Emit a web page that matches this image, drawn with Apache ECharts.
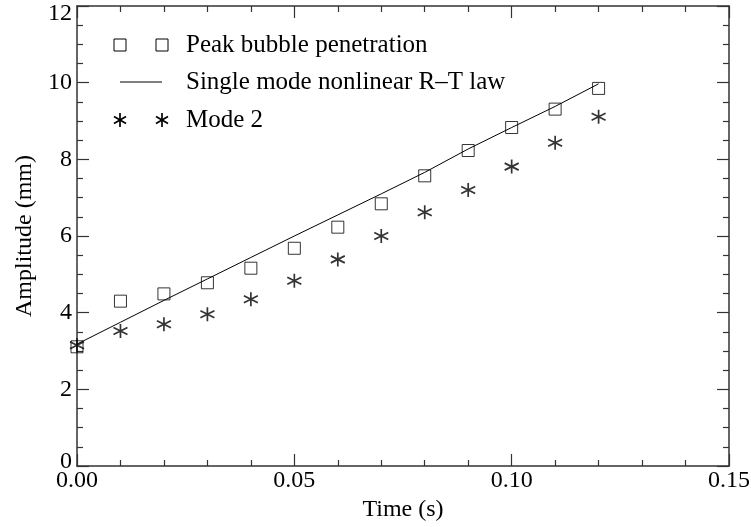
<!DOCTYPE html>
<html>
<head>
<meta charset="utf-8">
<script src="https://cdn.jsdelivr.net/npm/echarts@6/dist/echarts.min.js"></script>
<style>
  html, body { margin: 0; padding: 0; background: #fff; }
  #chart { width: 751px; height: 527px; }
</style>
</head>
<body>
<div id="chart"></div>
<script>
// Sample times (s)
const times = [0.00, 0.01, 0.02, 0.03, 0.04, 0.05, 0.06, 0.07, 0.08, 0.09, 0.10, 0.11, 0.12];
// Peak bubble penetration (mm)
const peakBubble = [3.11, 4.30, 4.49, 4.78, 5.16, 5.68, 6.23, 6.84, 7.57, 8.23, 8.83, 9.31, 9.85];
// Mode 2 amplitude (mm)
const mode2 = [3.15, 3.52, 3.70, 3.96, 4.35, 4.83, 5.39, 6.00, 6.62, 7.20, 7.81, 8.43, 9.11];
// Single mode nonlinear R-T law (mm)
const rtLaw = [3.18, 3.75, 4.32, 4.88, 5.44, 6.00, 6.55, 7.10, 7.66, 8.27, 8.83, 9.38, 9.97];

const xTicks = [0.00, 0.05, 0.10, 0.15];
const yTicks = [0, 2, 4, 6, 8, 10, 12];

const legendLabels = ['Peak bubble penetration', 'Single mode nonlinear R\u2013T law', 'Mode 2'];

const FONT = '"Liberation Serif", "DejaVu Serif", serif';
const STAR = 'path://M6,0L6,12M0.8,3L11.2,9M0.8,9L11.2,3';

const pairs = (ys) => times.map((t, i) => [t, ys[i]]);

const axisLine = { show: true, onZero: false, lineStyle: { color: '#333', width: 1.5 } };
const majorTick = { show: true, inside: true, length: 12, lineStyle: { color: '#333', width: 1.2 } };
const minorTick = (n) => ({ show: true, splitNumber: n, length: 6, lineStyle: { color: '#333', width: 1.2 } });

const chart = echarts.init(document.getElementById('chart'), null, { renderer: 'canvas' });

// Legend drawn as graphic rows: two symbols followed by the label
const rowY = [45, 82, 120];
const symX = [120, 162];
const textX = 186;
const legendGraphics = [];
symX.forEach(x => {
  legendGraphics.push({
    type: 'rect', shape: { x: x - 6, y: rowY[0] - 6, width: 12, height: 12 },
    style: { fill: 'none', stroke: '#000', lineWidth: 1 }
  });
  legendGraphics.push({
    type: 'group', x: x, y: rowY[2],
    children: [
      { type: 'line', shape: { x1: 0, y1: -7, x2: 0, y2: 7 }, style: { stroke: '#000', lineWidth: 1.7 } },
      { type: 'line', shape: { x1: -6, y1: -3.5, x2: 6, y2: 3.5 }, style: { stroke: '#000', lineWidth: 1.7 } },
      { type: 'line', shape: { x1: -6, y1: 3.5, x2: 6, y2: -3.5 }, style: { stroke: '#000', lineWidth: 1.7 } }
    ]
  });
});
legendGraphics.push({
  type: 'line', shape: { x1: symX[0], y1: rowY[1], x2: symX[1], y2: rowY[1] },
  style: { stroke: '#000', lineWidth: 1 }
});
legendLabels.forEach((label, i) => {
  legendGraphics.push({
    type: 'text', x: textX, y: rowY[i],
    style: { text: label, font: '25px ' + FONT, fill: '#000', verticalAlign: 'middle', align: 'left' }
  });
});

// Keep the end labels of the value axis inside the canvas
const yLabel = v => (v === 12 ? '{top|12}' : v === 0 ? '{bot|0}' : String(v));

chart.setOption({
  animation: false,
  backgroundColor: '#fff',
  grid: { left: 77, right: 22, top: 6, bottom: 61, containLabel: false, outerBoundsMode: 'none' },
  xAxis: [
    {
      type: 'value', min: 0, max: 0.15, interval: 0.05,
      name: 'Time (s)', nameLocation: 'middle', nameGap: 30,
      nameTextStyle: { fontFamily: FONT, fontSize: 24, color: '#000' },
      axisLine, axisTick: majorTick, minorTick: minorTick(5),
      splitLine: { show: false },
      axisLabel: {
        fontFamily: FONT, fontSize: 24, color: '#000', margin: 3,
        formatter: v => v.toFixed(2),
        customValues: xTicks
      }
    },
    {
      type: 'value', position: 'top', min: 0, max: 0.15, interval: 0.05,
      axisLine, axisTick: majorTick, minorTick: minorTick(5),
      splitLine: { show: false }, axisLabel: { show: false }
    }
  ],
  yAxis: [
    {
      type: 'value', min: 0, max: 12, interval: 2,
      name: 'Amplitude (mm)', nameLocation: 'middle', nameGap: 40, nameRotate: 90,
      nameTextStyle: { fontFamily: FONT, fontSize: 24, color: '#000' },
      axisLine, axisTick: majorTick, minorTick: minorTick(4),
      splitLine: { show: false },
      axisLabel: {
        fontFamily: FONT, fontSize: 24, color: '#000', margin: 5,
        formatter: yLabel,
        customValues: yTicks,
        rich: {
          top: { fontFamily: FONT, fontSize: 24, color: '#000', padding: [16, 0, 0, 0] },
          bot: { fontFamily: FONT, fontSize: 24, color: '#000', padding: [0, 0, 8, 0] }
        }
      }
    },
    {
      type: 'value', position: 'right', min: 0, max: 12, interval: 2,
      axisLine, axisTick: majorTick, minorTick: minorTick(4),
      splitLine: { show: false }, axisLabel: { show: false }
    }
  ],
  series: [
    {
      name: legendLabels[0], type: 'scatter', data: pairs(peakBubble),
      symbol: 'rect', symbolSize: 12,
      itemStyle: { color: 'rgba(0,0,0,0)', borderColor: '#000', borderWidth: 1 },
      z: 3
    },
    {
      name: legendLabels[1], type: 'line', data: pairs(rtLaw),
      showSymbol: false, symbol: 'none',
      lineStyle: { color: '#000', width: 1 },
      z: 4
    },
    {
      name: legendLabels[2], type: 'scatter', data: pairs(mode2),
      symbol: STAR, symbolSize: 14,
      itemStyle: { color: 'rgba(0,0,0,0)', borderColor: '#000', borderWidth: 1.7 },
      z: 5
    }
  ],
  graphic: legendGraphics
});
</script>
</body>
</html>
